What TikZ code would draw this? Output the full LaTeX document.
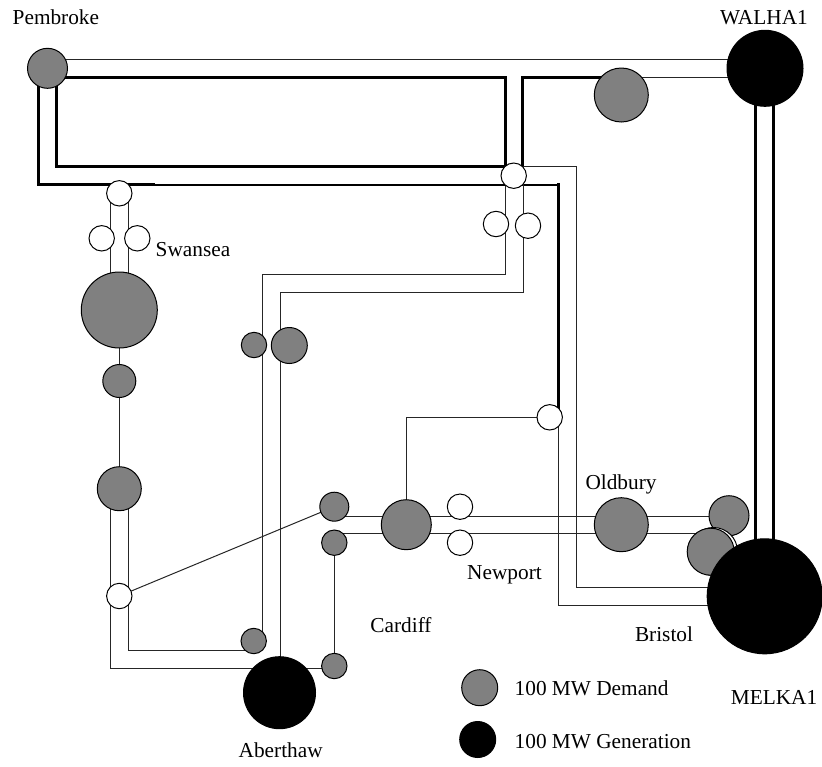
\documentclass[tikz,border=0pt]{standalone}
\usepackage{fontspec}
\setmainfont{Liberation Serif}
\tikzset{
  x=1pt,y=-1pt,
  busbar/.style={circle,draw=black,line width=1pt,inner sep=0pt,outer sep=0pt},
  demand/.style={busbar,fill=black!50},
  gen/.style={busbar,fill=black},
  junction/.style={busbar,fill=white},
  heavy/.style={line width=3pt,line join=miter},
  light/.style={line width=1pt,black!85,line join=miter},
  lbl/.style={inner sep=0pt,anchor=base,font=\fontsize{21.3}{23}\selectfont}
}
\begin{document}
\begin{tikzpicture}
\useasboundingbox (0,0) rectangle (822,766);
% anchor coordinates of bus positions
\coordinate (cPem) at (47.5,68.3);
\coordinate (cWal) at (765,68.3);
\coordinate (cMel) at (764.7,596.3);
\coordinate (cAbe) at (279.5,692.7);
\coordinate (cJT) at (513.7,175.7);
\coordinate (cJS) at (119.3,193.3);
\coordinate (cJR) at (549.7,417.3);
\coordinate (cJW) at (119.3,596);
\coordinate (cSwa) at (119.3,310);
\coordinate (cS2) at (119.3,381);
\coordinate (cS3) at (119.3,488.7);
\coordinate (cDA) at (253.7,641);
\coordinate (cDB) at (334.3,666);
\coordinate (cDC) at (334.3,506.7);
\coordinate (cDD) at (334.3,542.7);
\coordinate (cNew) at (406.3,524.7);
\coordinate (cOld) at (621.3,524.7);
\coordinate (cE1) at (729,515.7);
\coordinate (cE2) at (710.7,551.7);
\coordinate (cTop) at (621.3,95);
% heavy connectors
\draw[heavy] (56.7,166.7) rectangle (505,77.3);
\draw[heavy] (38.7,68.3) -- (38.7,184.7) -- (155,184.7);
\draw[line width=2.4pt] (155,184.7) -- (558.7,184.7);
\draw[heavy] (558.7,183.2) -- (558.7,417.3);
\draw[heavy] (522.3,175.7) -- (522.3,77.3) -- (621.3,77.3);
\draw[heavy] (755.3,68.3) -- (755.3,596.3);
\draw[heavy] (773.7,68.3) -- (773.7,596.3);
% light connectors
\draw[light] (47.5,59) -- (765,59);
\draw[light] (621.3,77.3) -- (765,77.3);
\draw[light] (522.3,166.7) -- (576,166.7) -- (576,587) -- (764.7,587);
\draw[light] (558.7,417.3) -- (558.7,605) -- (764.7,605);
\draw[light] (505,175.7) -- (505,274.3) -- (262.7,274.3) -- (262.7,641);
\draw[light] (523,175.7) -- (523,292) -- (280.7,292) -- (280.7,692.7);
\draw[light] (110.7,193.3) -- (110.7,310);
\draw[light] (128.3,193.3) -- (128.3,310);
\draw[light] (cSwa) -- (cS2) -- (cS3);
\draw[light] (110.7,488.7) -- (110.7,668) -- (334.3,668);
\draw[light] (128.7,488.7) -- (128.7,650) -- (253.7,650);
\draw[light] (cJW) -- (cDC);
\draw[light] (cDD) -- (cDB);
\draw[light] (cNew) -- (406.3,417.3) -- (cJR);
\draw[light] (334.3,516) -- (729,516);
\draw[light] (334.3,533.7) -- (710.7,533.7);
% buses
\node[demand,minimum size=40pt] (pem) at (cPem) {};
\node[gen,minimum size=76pt] (wal) at (cWal) {};
\node[demand,minimum size=54pt] (top) at (cTop) {};
\node[junction,minimum size=25.4pt] (jt) at (cJT) {};
\node[junction,minimum size=25.4pt] (jta) at (496,224) {};
\node[junction,minimum size=25.4pt] (jtb) at (528,225.7) {};
\node[junction,minimum size=25.4pt] (js) at (cJS) {};
\node[junction,minimum size=25.4pt] (jsa) at (101.7,238.3) {};
\node[junction,minimum size=25.4pt] (jsb) at (137.3,238.3) {};
\node[demand,minimum size=76pt] (swa) at (cSwa) {};
\node[demand,minimum size=33pt] (s2) at (cS2) {};
\node[demand,minimum size=44pt] (s3) at (cS3) {};
\node[junction,minimum size=25.4pt] (jw) at (cJW) {};
\node[demand,minimum size=25.4pt] (da) at (cDA) {};
\node[demand,minimum size=25.4pt] (dm) at (254,345) {};
\node[demand,minimum size=36pt] (dn) at (289.3,345.5) {};
\node[gen,minimum size=72pt] (abe) at (cAbe) {};
\node[demand,minimum size=25.4pt] (db) at (cDB) {};
\node[demand,minimum size=29pt] (dc) at (cDC) {};
\node[demand,minimum size=25.4pt] (dd) at (cDD) {};
\node[demand,minimum size=50pt] (new) at (cNew) {};
\node[junction,minimum size=25.4pt] (na) at (460,506.7) {};
\node[junction,minimum size=25.4pt] (nb) at (460,542.7) {};
\node[junction,minimum size=25.4pt] (jr) at (cJR) {};
\node[demand,minimum size=54pt] (old) at (cOld) {};
\node[demand,minimum size=40pt] (e1) at (cE1) {};
\node[junction,minimum size=48pt] (e3) at (713.5,551.5) {};
\node[demand,minimum size=47pt] (e2) at (cE2) {};
\node[gen,minimum size=115pt] (mel) at (cMel) {};
% legend
\node[demand,minimum size=36pt] (legd) at (479.7,687.7) {};
\node[gen,minimum size=36pt] (legg) at (477.7,739.5) {};
% labels
\node[lbl,anchor=base west] (tPem) at (12.5,24) {Pembroke};
\node[lbl] (tWal) at (764,24) {WALHA1};
\node[lbl,anchor=base west] (tSwa) at (155.5,256.5) {Swansea};
\node[lbl] (tOld) at (621,489) {Oldbury};
\node[lbl] (tNew) at (504.5,579) {Newport};
\node[lbl] (tCar) at (401,632) {Cardiff};
\node[lbl] (tBri) at (664,641) {Bristol};
\node[lbl] (tMel) at (774,704) {MELKA1};
\node[lbl] (tAbe) at (280.7,757.7) {Aberthaw};
\node[lbl,anchor=base west] (tD) at (514.5,695) {100 MW Demand};
\node[lbl,anchor=base west] (tG) at (514.5,748) {100 MW Generation};
\end{tikzpicture}
\end{document}
